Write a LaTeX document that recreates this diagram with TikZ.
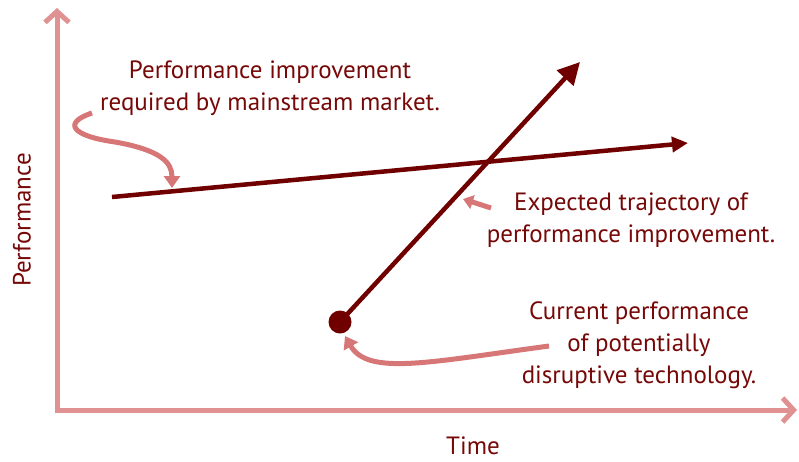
\documentclass[tikz,border=0pt]{standalone}
\usepackage{fontspec}
\setmainfont{PT Sans}
\usetikzlibrary{arrows.meta}
\definecolor{darkred}{RGB}{112,0,0}
\definecolor{textred}{RGB}{118,8,8}
\definecolor{axispink}{RGB}{224,146,146}
\definecolor{curvepink}{RGB}{214,118,118}

\begin{document}
\begin{tikzpicture}[x=1pt,y=-1pt,
    axis/.style={line width=5pt,color=axispink,-{Straight Barb[length=11pt,width=24pt]}},
    trend/.style={line width=4.5pt,color=darkred,-{Triangle[length=16pt,width=15pt]}},
    pointer/.style={line width=5pt,color=curvepink,-{Triangle[length=12pt,width=16pt]}},
    label/.style={text=textred,font=\fontsize{25}{32}\selectfont,align=center,inner sep=0pt}]
  \useasboundingbox (0,0) rectangle (799,461);
  % axes
  \coordinate (origin) at (57,410);
  \coordinate (ytop) at (57,8);
  \coordinate (xend) at (797,410);
  \draw[axis] ([yshift=2pt]origin) -- (ytop);
  \draw[axis] ([xshift=-2.5pt]origin) -- (xend);
  \node[label,rotate=90] (perf) at (22,220) {Performance};
  \node[label] (time) at (473,446) {Time};
  % the two trajectories
  \coordinate (mainstart) at (112,197);
  \coordinate (mainend) at (688,143);
  \coordinate (disrend) at (580,62);
  \draw[trend] (mainstart) -- (mainend);
  \node[circle,fill=darkred,minimum size=23pt,inner sep=0pt] (dot) at (340,322) {};
  \draw[trend,-{Triangle[length=22pt,width=22pt]}] (dot.center) -- (disrend);
  % labels
  \node[label] (mainstream) at (270,88) {Performance improvement\\required by mainstream market.};
  \node[label] (expected) at (631,220) {Expected trajectory of\\performance improvement.};
  \node[label] (current) at (639,345) {Current performance\\of potentially\\disruptive technology.};
  % pointers
  \coordinate (mainhit) at (172,188);
  \coordinate (expstart) at (491,208);
  \coordinate (exphit) at (463,199);
  \coordinate (curstart) at (549,346);
  \coordinate (curhit) at (345,336);
  \draw[pointer] (92,113) .. controls (62,123) and (72,136) .. (115,142)
    .. controls (160,150) and (172,162) .. (mainhit);
  \draw[pointer,-{Triangle[length=10pt,width=14pt]}] (expstart) -- (exphit);
  \draw[pointer] (curstart) .. controls (430,362) and (368,376) .. (curhit);
\end{tikzpicture}
\end{document}
